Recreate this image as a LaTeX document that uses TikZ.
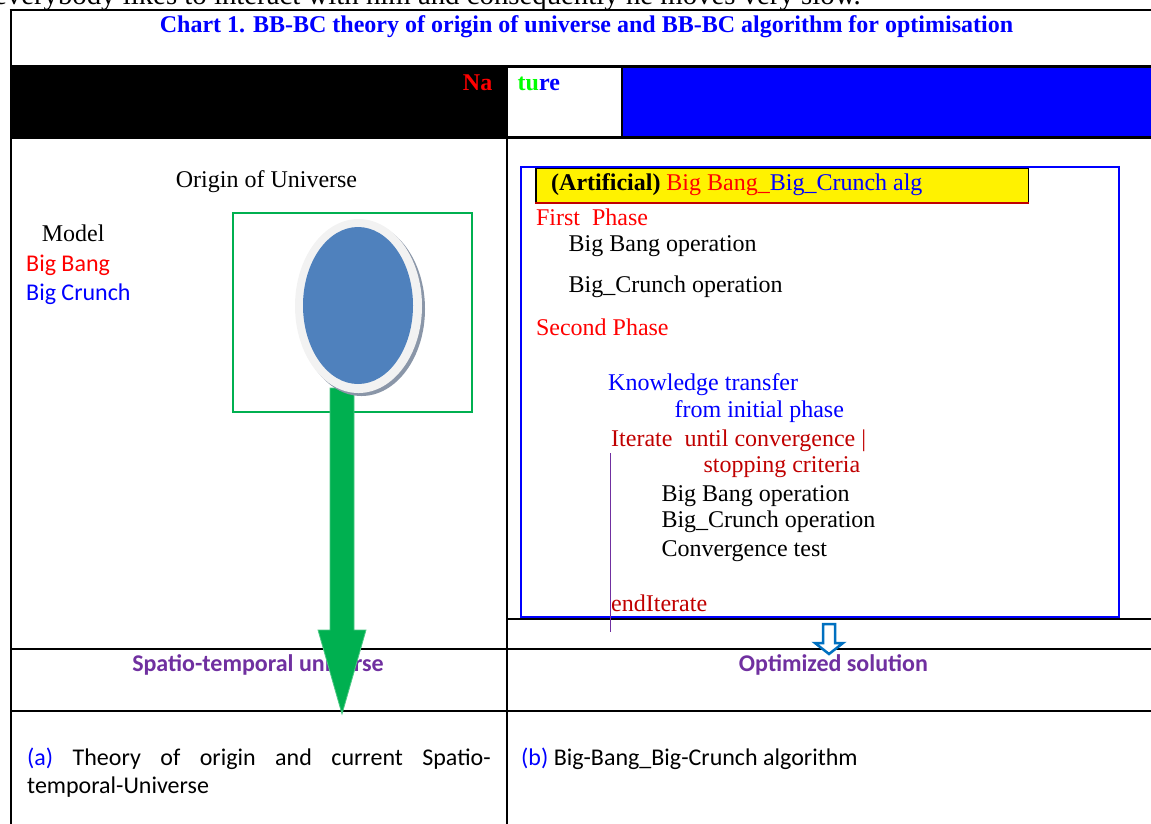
\documentclass[tikz,border=0pt]{standalone}
\usepackage{fontspec}
\setmainfont{Liberation Serif}
\newfontfamily\calib{Carlito}
\usetikzlibrary{shapes.geometric}
\definecolor{dred}{HTML}{C00000}
\definecolor{purp}{HTML}{7030A0}
\definecolor{ggreen}{HTML}{00B050}
\definecolor{steel}{HTML}{4F81BD}
\definecolor{ringgray}{HTML}{F2F2F2}
\definecolor{shadowgray}{HTML}{8A96A8}
\definecolor{arrblue}{HTML}{0070C0}
\newcommand\sersz{\fontsize{24}{28}\selectfont}
\newcommand\calsz{\calib\fontsize{24}{29}\selectfont}
\begin{document}
\begin{tikzpicture}[x=1pt,y=-1pt,
  txt/.style={inner sep=0pt, anchor=base west, font=\sersz},
  ctxt/.style={inner sep=0pt, anchor=base west, font=\calsz},
  tline/.style={line width=2.2pt, black},
  thline/.style={line width=2.8pt, black},
  lbl/.style={inner sep=0pt, anchor=base, font=\calsz\bfseries, text=purp}]
\useasboundingbox (0,0) rectangle (1151,823);
\clip (0,0) rectangle (1151,823);

% partial line of page text above the chart
\node[inner sep=0pt, anchor=base east, font=\fontsize{28.8}{32}\selectfont] (prev) at (861,4) {everybody likes to interact with him and consequently he moves very slow.};

% header fills
\fill[black] (11,66.5) rectangle (507,137.5);
\fill[blue] (622,66.5) rectangle (1170,137.5);

% table rules
\draw[thline] (9.6,10) -- (1170,10);
\draw[tline] (11,10) -- (11,830);
\draw[tline] (11,66.5) -- (1170,66.5);
\draw[thline] (11,137.5) -- (1170,137.5);
\draw[tline] (507,66.5) -- (507,830);
\draw[tline] (622,66.5) -- (622,137.5);
\draw[tline] (507,619) -- (1170,619);
\draw[thline] (11,649) -- (1170,649);
\draw[thline] (11,711) -- (1170,711);

% title and header
\node[inner sep=0pt, anchor=base, font=\sersz\bfseries, text=blue] (title) at (586.5,32.7)
  {Chart 1. BB-BC theory of origin of universe and BB-BC algorithm for optimisation};
\node[inner sep=0pt, anchor=base east, font=\sersz\bfseries, text=red] (na) at (492.5,90) {Na};
\node[inner sep=0pt, anchor=base west, font=\sersz\bfseries] (ture) at (517.5,90)
  {\textcolor{green}{tu}\textcolor{blue}{re}};

% left cell
\node[txt, anchor=base] (origin) at (266.5,187.7) {Origin of Universe};
\node[txt] (model) at (41.7,241.7) {Model};
\node[ctxt, text=red] (bb) at (26,271.7) {Big Bang};
\node[ctxt, text=blue] (bc) at (26,300.7) {Big Crunch};
\node[draw=ggreen, line width=2pt, minimum width=239pt, minimum height=198.4pt, inner sep=0pt] (frame) at (352.8,312.5) {};

\node[lbl] (st) at (258,671.7) {Spatio-temporal universe};
\node[lbl] (opt) at (833.5,671) {Optimized solution};

% green arrow
\filldraw[fill=ggreen, draw=ggreen!70!white, line width=0.8pt]
  (330,388) -- (354,388) -- (354,630) -- (366,630) -- (342,714) -- (318,630) -- (330,630) -- cycle;

% universe ellipse
\node[ellipse, fill=shadowgray, minimum width=127pt, minimum height=174pt, inner sep=0pt] (shadow) at (361.5,309) {};
\node[ellipse, fill=ringgray, minimum width=127pt, minimum height=174pt, inner sep=0pt] (ring) at (358.5,306) {};
\node[ellipse, fill=steel, minimum width=110pt, minimum height=157pt, inner sep=0pt] (blob) at (358,305.5) {};

% right cell: algorithm box
\node[draw=blue, line width=2pt, minimum width=598.5pt, minimum height=450.3pt, inner sep=0pt] (algbox) at (819.75,392.15) {};
\node[fill=yellow, draw=black, line width=1.6pt, minimum width=492.4pt, minimum height=34pt, inner sep=0pt] (ybox) at (782.2,185.3) {};
\draw[dred, line width=2pt] (ybox.south west) -- (ybox.south east);
\node[txt] (arttxt) at (551,190.7) {\textbf{(Artificial)} \textcolor{red}{Big Bang\_}\textcolor{blue}{Big\_Crunch alg}};

\node[txt, text=red] (p1) at (535.8,225) {First\ \ Phase};
\node[txt] (o1) at (568.5,251.7) {Big Bang operation};
\node[txt] (o2) at (568.5,292.7) {Big\_Crunch operation};
\node[txt, text=red] (p2) at (535.8,335.7) {Second Phase};
\node[txt, text=blue] (k1) at (608,390.7) {Knowledge transfer};
\node[txt, text=blue] (k2) at (674.4,417.7) {from initial phase};
\node[txt, text=dred] (it1) at (611,446) {Iterate\ \ until convergence |};
\node[txt, text=dred] (it2) at (703.4,472.7) {stopping criteria};
\node[txt] (o3) at (661.3,501) {Big Bang operation};
\node[txt] (o4) at (661.3,527.7) {Big\_Crunch operation};
\node[txt] (o5) at (661.3,556.7) {Convergence test};
\node[txt, text=dred] (endit) at (611,611.7) {endIterate};
\coordinate (pl1) at (610.6,453.3);
\coordinate (pl2) at (610.6,632);
\draw[purp, line width=1.5pt] (pl1) -- (pl2);

% blue hollow arrow
\filldraw[fill=white, draw=arrblue, line width=2.5pt, line join=miter]
  (823,624) -- (835,624) -- (835,643) -- (843,643) -- (829,654) -- (815,643) -- (823,643) -- cycle;

% captions
\node[ctxt] (capa1) at (27,765) {\makebox[463.5pt][s]{\textcolor{blue}{(a)} Theory of origin and current Spatio-}};
\node[ctxt] (capa2) at (27,793.3) {temporal-Universe};
\node[ctxt] (capb) at (521,765) {\textcolor{blue}{(b)} Big-Bang\_Big-Crunch algorithm};
\end{tikzpicture}
\end{document}
